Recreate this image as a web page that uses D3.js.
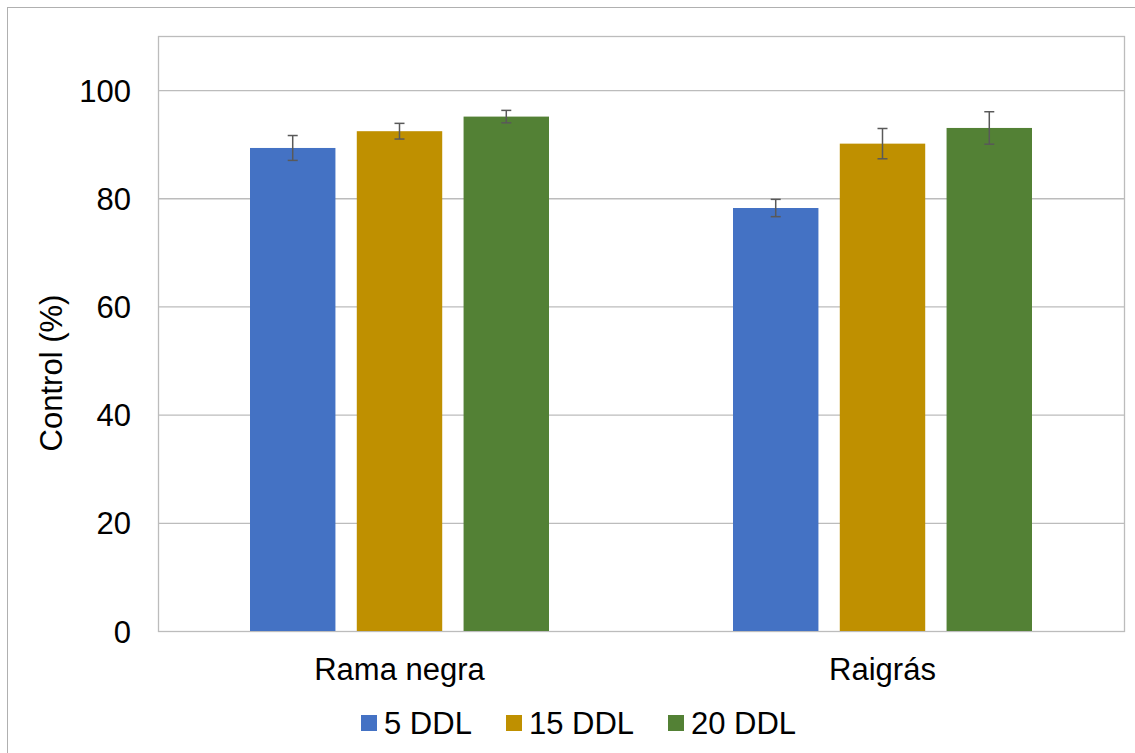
<!DOCTYPE html>
<html><head><meta charset="utf-8">
<script src="https://cdn.jsdelivr.net/npm/d3@7"></script>
<style>body{margin:0;background:#fff}svg{display:block;font-family:"Liberation Sans",Arial,sans-serif}</style>
</head><body>
<svg id="c" width="1135" height="753"></svg>
<script>
const categories = ["Rama negra", "Raigrás"];
const seriesNames = ["5 DDL", "15 DDL", "20 DDL"];
const seriesColors = ["#4472C4", "#BF9000", "#538135"];
const values5 = [89.3, 78.2];
const values15 = [92.4, 90.1];
const values20 = [95.1, 93.0];
const err5 = [2.3, 1.6];
const err15 = [1.45, 2.8];
const err20 = [1.15, 3.0];
const yTicks = [0, 20, 40, 60, 80, 100];

const seriesValues = [values5, values15, values20];
const seriesErr = [err5, err15, err20];

const svg = d3.select("#c");
const m = {l:158, t:36, r:1124, b:631};
const FS = 31;

// outer border
svg.append("rect").attr("x",7.5).attr("y",7.5).attr("width",1140).attr("height",760)
  .attr("fill","none").attr("stroke","#b0b0b0").attr("stroke-width",1);

const y = d3.scaleLinear().domain([0,110]).range([m.b, m.t]);
const x0 = d3.scaleBand().domain(categories).range([m.l, m.r]).paddingInner(0).paddingOuter(0);
const x1 = d3.scaleBand().domain(seriesNames).range([0, 299]).paddingInner(0.2).paddingOuter(0);

// gridlines
svg.append("g").selectAll("line").data(yTicks.filter(d=>d>0)).join("line")
  .attr("x1", m.l).attr("x2", m.r).attr("y1", d=>y(d)+0.5).attr("y2", d=>y(d)+0.5)
  .attr("stroke","#bcbcbc").attr("stroke-width",1.3);

// plot area border
svg.append("rect").attr("x",m.l+0.5).attr("y",m.t+0.5).attr("width",m.r-m.l).attr("height",m.b-m.t)
  .attr("fill","none").attr("stroke","#bcbcbc").attr("stroke-width",1.3);

// y tick labels via axis
const yAxis = d3.axisLeft(y).tickValues(yTicks).tickSize(0).tickPadding(0);
const ga = svg.append("g").attr("transform",`translate(${m.l-27},0)`).call(yAxis);
ga.select(".domain").remove();
ga.attr("font-size",FS).attr("font-family","Liberation Sans, Arial, sans-serif");
ga.selectAll("text").attr("fill","#000").attr("dy","0.36em");

// bars
const groups = svg.append("g").selectAll("g").data(categories).join("g")
  .attr("transform", d=>`translate(${x0(d)+x0.bandwidth()/2-149.5},0)`);
seriesNames.forEach((s, si) => {
  groups.append("rect")
    .attr("x", x1(s)).attr("width", x1.bandwidth())
    .attr("y", (d,i)=>y(seriesValues[si][i]))
    .attr("height", (d,i)=>y(0)-y(seriesValues[si][i]))
    .attr("fill", seriesColors[si]);
});
// error bars
seriesNames.forEach((s, si) => {
  const cx = x1(s) + x1.bandwidth()/2;
  groups.append("line").attr("x1",cx).attr("x2",cx)
    .attr("y1",(d,i)=>y(seriesValues[si][i]+seriesErr[si][i]))
    .attr("y2",(d,i)=>y(seriesValues[si][i]-seriesErr[si][i]))
    .attr("stroke","#595959").attr("stroke-width",1.5);
  [1,-1].forEach(sg=>{
    groups.append("line").attr("x1",cx-5).attr("x2",cx+5)
      .attr("y1",(d,i)=>y(seriesValues[si][i]+sg*seriesErr[si][i]))
      .attr("y2",(d,i)=>y(seriesValues[si][i]+sg*seriesErr[si][i]))
      .attr("stroke","#595959").attr("stroke-width",1.5);
  });
});

// x category labels
const xAxis = d3.axisBottom(x0).tickSize(0).tickPadding(0);
const gx = svg.append("g").attr("transform",`translate(0,680)`).call(xAxis);
gx.select(".domain").remove();
gx.attr("font-size",FS).attr("font-family","Liberation Sans, Arial, sans-serif");
gx.selectAll("text").attr("fill","#000").attr("dy",0).attr("y",0);

// y title
svg.append("text").attr("transform",`translate(62,373) rotate(-90)`)
  .attr("text-anchor","middle").attr("font-size",FS).attr("fill","#000").text("Control (%)");

// legend
const legendX = [361, 506, 668];
const lg = svg.append("g").selectAll("g").data(seriesNames).join("g")
  .attr("transform",(d,i)=>`translate(${legendX[i]},734)`);
lg.append("rect").attr("x",0).attr("y",-19).attr("width",16).attr("height",16)
  .attr("fill",(d,i)=>seriesColors[i]);
lg.append("text").attr("x",23).attr("y",0).attr("font-size",FS).attr("fill","#000").text(d=>d);
</script>
</body></html>
